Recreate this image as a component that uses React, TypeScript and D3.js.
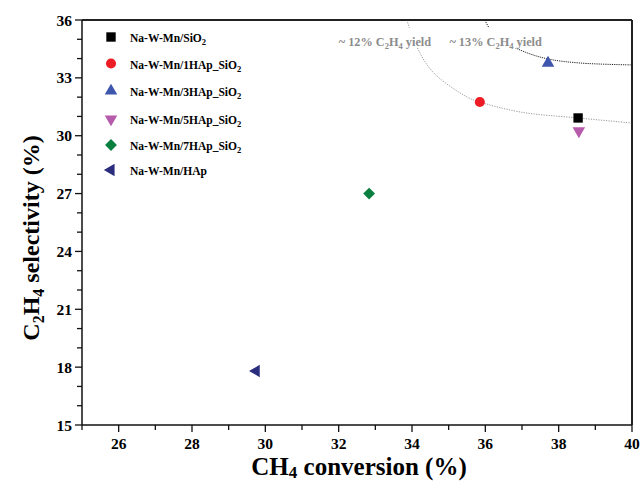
import React from "react";
import * as d3 from "d3";

const sampleNames = [
  ["Na-W-Mn/SiO", "2"],
  ["Na-W-Mn/1HAp_SiO", "2"],
  ["Na-W-Mn/3HAp_SiO", "2"],
  ["Na-W-Mn/5HAp_SiO", "2"],
  ["Na-W-Mn/7HAp_SiO", "2"],
  ["Na-W-Mn/HAp", ""],
];
const conversion = [38.53, 35.85, 37.71, 38.55, 32.83, 29.75];
const selectivity = [30.92, 31.75, 33.77, 30.25, 27.0, 17.8];
const colors = ["#000000", "#ee1c25", "#3f56ad", "#b65aab", "#0a7f3f", "#2a2c7d"];
const shapes = ["square", "circle", "triUp", "triDown", "diamond", "triLeft"];

const xTicks = [26, 28, 30, 32, 34, 36, 38, 40];
const yTicks = [15, 18, 21, 24, 27, 30, 33, 36];

// iso-yield guide curves (data coordinates)
const curve12x = [33.86, 34.11, 34.57, 35.5, 35.85, 36.95, 38.53, 40.0];
const curve12y = [36.0, 34.7, 33.3, 32.01, 31.75, 31.23, 30.92, 30.66];
const curve13x = [35.99, 36.12, 36.55, 37.08, 37.71, 38.58, 40.0];
const curve13y = [36.0, 35.55, 34.85, 34.34, 33.98, 33.77, 33.67];

const W = 640, H = 483;
const L = 82, R = 632, T = 20, B = 425;
const FONT = "'Liberation Serif', 'Times New Roman', serif";

function symbolPath(shape: string, size: number) {
  switch (shape) {
    case "square": return { d: d3.symbol(d3.symbolSquare, size)()!, rot: 0 };
    case "circle": return { d: d3.symbol(d3.symbolCircle, size)()!, rot: 0 };
    case "triUp": return { d: d3.symbol(d3.symbolTriangle, size)()!, rot: 0 };
    case "triDown": return { d: d3.symbol(d3.symbolTriangle, size)()!, rot: 180 };
    case "triLeft": return { d: d3.symbol(d3.symbolTriangle, size)()!, rot: -90 };
    case "diamond": return { d: d3.symbol(d3.symbolSquare, size)()!, rot: 45 };
  }
  return { d: "", rot: 0 };
}
const sizes: Record<string, number> = { square: 88, circle: 80, triUp: 68, triDown: 68, triLeft: 66, diamond: 70 };

export default function App() {
  const x = d3.scaleLinear().domain([25, 40]).range([L, R]);
  const y = d3.scaleLinear().domain([15, 36]).range([B, T]);
  const line = d3.line<[number, number]>().x(d => x(d[0])).y(d => y(d[1])).curve(d3.curveCatmullRom);
  const c12 = curve12x.map((v, i) => [v, curve12y[i]] as [number, number]);
  const c13 = curve13x.map((v, i) => [v, curve13y[i]] as [number, number]);
  const xMinor = d3.range(25, 40.01, 1);
  const yMinor = d3.range(15, 36.01, 1);

  return (
    <svg width={W} height={H} style={{ position: "absolute", left: 0, top: 0, background: "#fff" }} fontFamily={FONT}>
      <rect width={W} height={H} fill="#fff" />
      <defs>
        <clipPath id="plot"><rect x={L} y={T} width={R - L} height={B - T} /></clipPath>
      </defs>
      <g clipPath="url(#plot)">
        <path d={line(c12)!} fill="none" stroke="#9a9a9a" strokeWidth={1} strokeDasharray="1.2,1.3" />
        <path d={line(c13)!} fill="none" stroke="#222" strokeWidth={1} strokeDasharray="1.2,1" />
      </g>
      {/* yield labels */}
      <rect x={x(31.95)} y={y(35.6)} width={x(34.68) - x(31.95)} height={y(34.55) - y(35.6)} fill="#fff" />
      <rect x={x(34.95)} y={y(35.6)} width={x(37.65) - x(34.95)} height={y(34.55) - y(35.6)} fill="#fff" />
      <text x={x(32.0)} y={y(34.65)} fontSize={12.3} fontWeight="bold" fill="#8c8c8c">
        ~ 12% C<tspan fontSize={8.5} dy={3}>2</tspan><tspan dy={-3}>H</tspan><tspan fontSize={8.5} dy={3}>4</tspan><tspan dy={-3}> yield</tspan>
      </text>
      <text x={x(35.02)} y={y(34.65)} fontSize={12.3} fontWeight="bold" fill="#8c8c8c">
        ~ 13% C<tspan fontSize={8.5} dy={3}>2</tspan><tspan dy={-3}>H</tspan><tspan fontSize={8.5} dy={3}>4</tspan><tspan dy={-3}> yield</tspan>
      </text>

      {/* frame */}
      <line x1={L} x2={R} y1={T} y2={T} stroke="#222" strokeWidth={2} />
      <line x1={R} x2={R} y1={T} y2={B} stroke="#222" strokeWidth={2} />
      <line x1={L} x2={L} y1={T} y2={B} stroke="#111" strokeWidth={1.5} />
      <line x1={L} x2={R} y1={B} y2={B} stroke="#111" strokeWidth={1.5} />

      {/* x ticks */}
      {xMinor.map(v => (
        <line key={"xm" + v} x1={x(v)} x2={x(v)} y1={B} y2={B + (xTicks.includes(v) ? 7 : 5)} stroke="#111" strokeWidth={1.3} />
      ))}
      {xTicks.map(v => (
        <text key={"xt" + v} x={x(v)} y={B + 23.5} textAnchor="middle" fontSize={15.5} fontWeight="bold">{v}</text>
      ))}
      {/* y ticks */}
      {yMinor.map(v => (
        <line key={"ym" + v} x1={L} x2={L - (yTicks.includes(v) ? 7 : 5)} y1={y(v)} y2={y(v)} stroke="#111" strokeWidth={1.3} />
      ))}
      {yTicks.map(v => (
        <text key={"yt" + v} x={L - 10} y={y(v) + 5.5} textAnchor="end" fontSize={15.5} fontWeight="bold">{v}</text>
      ))}

      {/* axis titles */}
      <text x={359} y={475} textAnchor="middle" fontSize={25} fontWeight="bold">
        CH<tspan fontSize={17} dy={3}>4</tspan><tspan dy={-3}> conversion (%)</tspan>
      </text>
      <text transform={`translate(39, 238) rotate(-90)`} textAnchor="middle" fontSize={24} fontWeight="bold">
        C<tspan fontSize={16} dy={5}>2</tspan><tspan dy={-5}>H</tspan><tspan fontSize={16} dy={5}>4</tspan><tspan dy={-5}> selectivity (%)</tspan>
      </text>

      {/* points */}
      {conversion.map((cv, i) => {
        const s = symbolPath(shapes[i], sizes[shapes[i]]);
        return (
          <path key={"p" + i} d={s.d} fill={colors[i]}
            transform={`translate(${x(cv)}, ${y(selectivity[i])}) rotate(${s.rot})`} />
        );
      })}

      {/* legend */}
      {sampleNames.map((nm, i) => {
        const s = symbolPath(shapes[i], sizes[shapes[i]]);
        const ly = [37, 63.5, 91, 119, 145, 170][i];
        return (
          <g key={"lg" + i}>
            <path d={s.d} fill={colors[i]} transform={`translate(111, ${ly}) rotate(${s.rot})`} />
            <text x={130} y={ly + 5} fontSize={11.5} fontWeight="bold">
              {nm[0]}{nm[1] ? <tspan fontSize={8.5} dy={3}>{nm[1]}</tspan> : null}
            </text>
          </g>
        );
      })}
    </svg>
  );
}
